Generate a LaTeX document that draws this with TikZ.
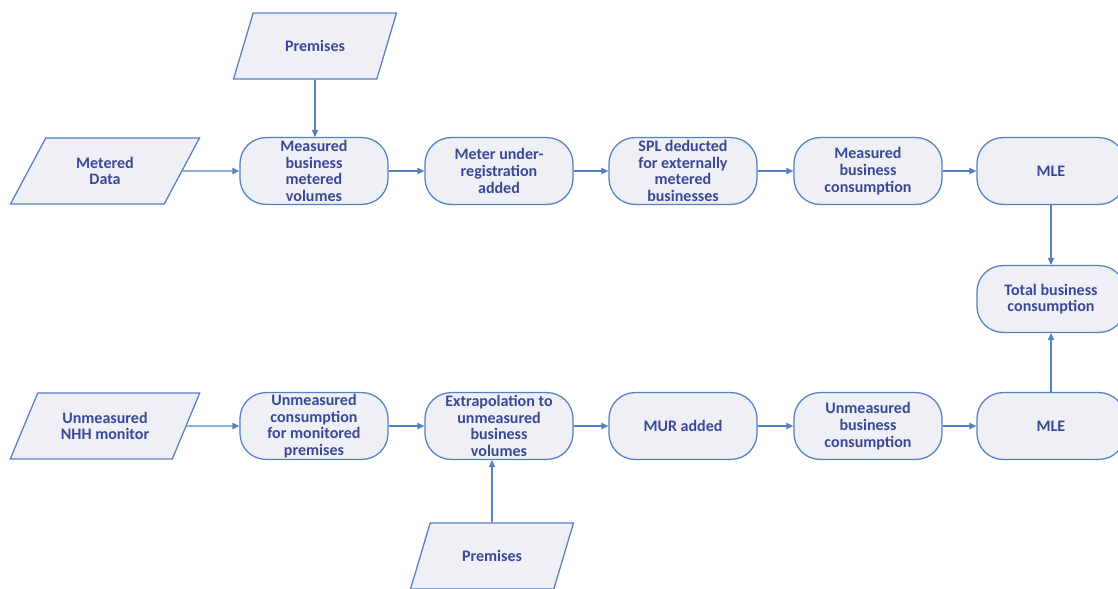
\documentclass[tikz,border=0pt]{standalone}
\usepackage{fontspec}
\setmainfont{Carlito}
\usetikzlibrary{arrows.meta,shapes.geometric}

\definecolor{boxfill}{RGB}{238,240,245}
\definecolor{boxline}{RGB}{84,128,196}
\definecolor{boxtext}{RGB}{58,72,150}

\begin{document}
\begin{tikzpicture}[x=0.025cm, y=-0.025cm,
    font=\bfseries\fontsize{11.4}{11.9}\selectfont,
    proc/.style={draw=boxline, fill=boxfill, text=boxtext, line width=0.9pt,
      rounded corners=0.65cm, minimum width=3.7cm, minimum height=1.67cm,
      align=center, inner sep=0pt},
    data/.style={trapezium, trapezium left angle=62, trapezium right angle=118,
      trapezium stretches=true, draw=boxline, fill=boxfill, text=boxtext,
      line width=0.9pt, minimum height=1.65cm, align=center},
    flow/.style={draw=boxline, line width=0.8pt, -{Triangle[length=5pt,width=4.5pt]}}]
      \clip (0,0) rectangle (1118,588);

      % inputs
      \node[data, minimum width=4.1cm] (premA) at (315, 46) {Premises};
      \node[data, minimum width=4.75cm] (metered) at (105, 171) {Metered\\Data};
      \node[data, minimum width=4.75cm] (nhh) at (105, 426) {Unmeasured\\NHH monitor};
      \node[data, minimum width=4.1cm] (premB) at (492, 556) {Premises};

      % measured row
      \node[proc] (msrvol) at (314, 171) {Measured\\business\\metered\\volumes};
      \node[proc] (underreg) at (499, 171) {Meter under-\\registration\\added};
      \node[proc] (spl) at (683, 171) {SPL deducted\\for externally\\metered\\businesses};
      \node[proc] (msrcons) at (868, 171) {Measured\\business\\consumption};
      \node[proc] (mleA) at (1051, 171) {MLE};

      \node[proc] (total) at (1051, 299) {Total business\\consumption};

      % unmeasured row
      \node[proc] (umcons) at (314, 426) {Unmeasured\\consumption\\for monitored\\premises};
      \node[proc] (extrap) at (499, 426) {Extrapolation to\\unmeasured\\business\\volumes};
      \node[proc] (mur) at (683, 426) {MUR added};
      \node[proc] (umbus) at (868, 426) {Unmeasured\\business\\consumption};
      \node[proc] (mleB) at (1051, 426) {MLE};

      \draw[flow] (premA.south) -- (premA.south |- msrvol.north);
      \draw[flow] (metered) -- (msrvol);
      \draw[flow] (msrvol) -- (underreg);
      \draw[flow] (underreg) -- (spl);
      \draw[flow] (spl) -- (msrcons);
      \draw[flow] (msrcons) -- (mleA);
      \draw[flow] (mleA) -- (total);

      \draw[flow] (nhh) -- (umcons);
      \draw[flow] (umcons) -- (extrap);
      \draw[flow] (premB.north) -- (premB.north |- extrap.south);
      \draw[flow] (extrap) -- (mur);
      \draw[flow] (mur) -- (umbus);
      \draw[flow] (umbus) -- (mleB);
      \draw[flow] (mleB) -- (total);

   \end{tikzpicture}
\end{document}
